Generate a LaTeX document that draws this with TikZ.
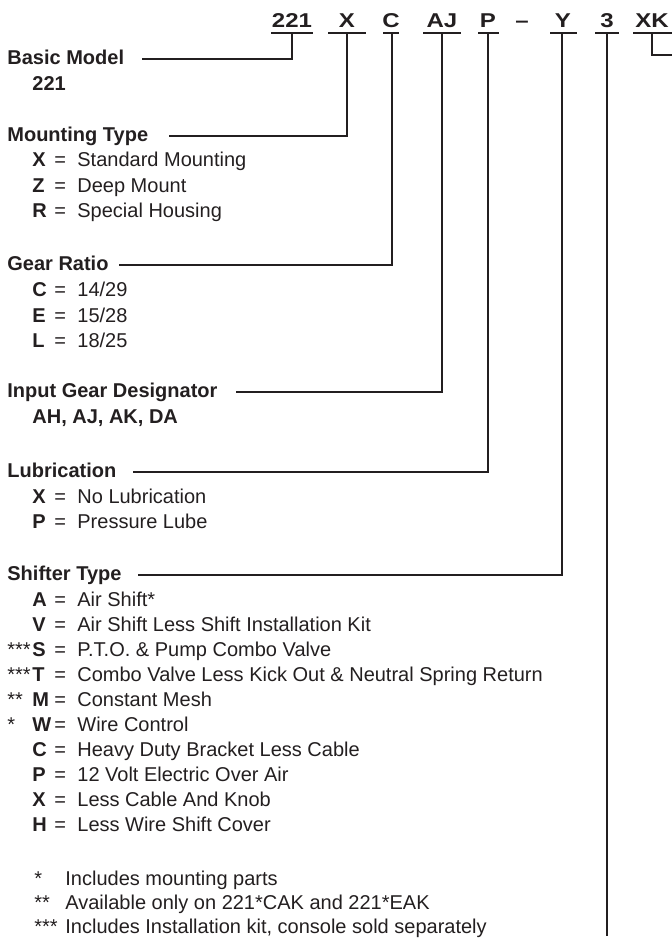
\documentclass[tikz,border=0pt]{standalone}
\usepackage{fontspec}
\setmainfont{Liberation Sans}
\newfontfamily\hdrfont[FakeStretch=1.2]{Liberation Sans}
\definecolor{inkblack}{RGB}{35,31,32}

\begin{document}
\begin{tikzpicture}[x=0.5pt, y=-0.5pt, inner sep=0pt, text=inkblack,
    hdr/.style={font={\fontsize{10}{12}\hdrfont\bfseries}, anchor=base},
    lbl/.style={font={\fontsize{10}{12}\selectfont\bfseries}, anchor=base west},
    code/.style={font={\fontsize{10}{12}\selectfont\bfseries}, anchor=base west},
    val/.style={font={\fontsize{10}{12}\selectfont}, anchor=base west},
    uline/.style={draw=inkblack, line width=1pt},
    link/.style={draw=inkblack, line width=1pt, shorten >=8pt}]
  \useasboundingbox (0,0) rectangle (672,939);

  % model number header
  \node[hdr] (h221) at (292,27) {221};
  \node[hdr] (hX) at (347,27) {X};
  \node[hdr] (hC) at (391,27) {C};
  \node[hdr] (hAJ) at (442,27) {AJ};
  \node[hdr] (hP) at (488,27) {P};
  \node[hdr] (hdash) at (522,27) {\textendash};
  \node[hdr] (hY) at (563,27) {Y};
  \node[hdr] (h3) at (607,27) {3};
  \node[hdr] (hXK) at (652,27) {XK};
  \foreach \n/\a/\b/\m in {221/271/313/292, X/328/366/347, C/383/399/392,
      AJ/423/461/442, P/478/499/488, Y/550/577/562, 3/595/619/607, XK/633/672/652} {
    \draw[uline] (\a,33) -- (\b,33);
    \coordinate (u\n) at (\m,33);
  }

  % basic model
  \node[lbl] (basic) at (7,64) {Basic Model};
  \node[code] (basicval) at (32,90) {221};

  % mounting type
  \node[lbl] (mount) at (7,141) {Mounting Type};
  \foreach \y/\c/\v [count=\i] in {166/X/Standard Mounting, 192/Z/Deep Mount, 217/R/Special Housing} {
    \node[code] (mount\i) at (32,\y) {\c};
    \node[val] (mount\i eq) at (54,\y) {=};
    \node[val] (mount\i val) at (77,\y) {\v};
  }

  % gear ratio
  \node[lbl] (gear) at (7,270) {Gear Ratio};
  \foreach \y/\c/\v [count=\i] in {296/C/14\slash 29, 322/E/15\slash 28, 347/L/18\slash 25} {
    \node[code] (gear\i) at (32,\y) {\c};
    \node[val] (gear\i eq) at (54,\y) {=};
    \node[val] (gear\i val) at (77,\y) {\v};
  }

  % input gear
  \node[lbl] (input) at (7,397) {Input Gear Designator};
  \node[code] (inputval) at (32,423) {AH, AJ, AK, DA};

  % lubrication
  \node[lbl] (lube) at (7,477) {Lubrication};
  \foreach \y/\c/\v [count=\i] in {503/X/No Lubrication, 528/P/Pressure Lube} {
    \node[code] (lube\i) at (32,\y) {\c};
    \node[val] (lube\i eq) at (54,\y) {=};
    \node[val] (lube\i val) at (77,\y) {\v};
  }

  % shifter type
  \node[lbl] (shifter) at (7,580) {Shifter Type};
  \foreach \y/\p/\c/\v [count=\i] in {606//A/Air Shift*,
      631//V/Air Shift Less Shift Installation Kit,
      656/***/S/P.T.O. \& Pump Combo Valve,
      681/***/T/Combo Valve Less Kick Out \& Neutral Spring Return,
      706/**/M/Constant Mesh,
      731/*/W/Wire Control,
      756//C/Heavy Duty Bracket Less Cable,
      781//P/12 Volt Electric Over Air,
      806//X/Less Cable And Knob,
      831//H/Less Wire Shift Cover} {
    \node[val] (shift\i mark) at (7,\y) {\p};
    \node[code] (shift\i) at (32,\y) {\c};
    \node[val] (shift\i eq) at (54,\y) {=};
    \node[val] (shift\i val) at (77,\y) {\v};
  }

  % footnotes
  \node[val] (fn1mark) at (34,885) {*};
  \node[val] (fn1) at (65,885) {Includes mounting parts};
  \node[val] (fn2mark) at (34,909) {**};
  \node[val] (fn2) at (65,909) {Available only on 221*CAK and 221*EAK};
  \node[val] (fn3mark) at (34,933) {***};
  \node[val] (fn3) at (65,933) {Includes Installation kit, console sold separately};

  % leaders
  \coordinate (end3) at (607,936);
  \coordinate (endXK) at (672,55);
  \draw[link, shorten >=9pt] (u221) |- (basic.mid east);
  \draw[link, shorten >=10pt] (uX) |- (mount.mid east);
  \draw[link, shorten >=5pt] (uC) |- (gear.mid east);
  \draw[link, shorten >=9pt] (uAJ) |- (input.mid east);
  \draw[link] (uP) |- (lube.mid east);
  \draw[link] (uY) |- (shifter.mid east);
  \draw[uline] (u3) -- (end3);
  \draw[uline] (uXK) |- (endXK);
\end{tikzpicture}
\end{document}
